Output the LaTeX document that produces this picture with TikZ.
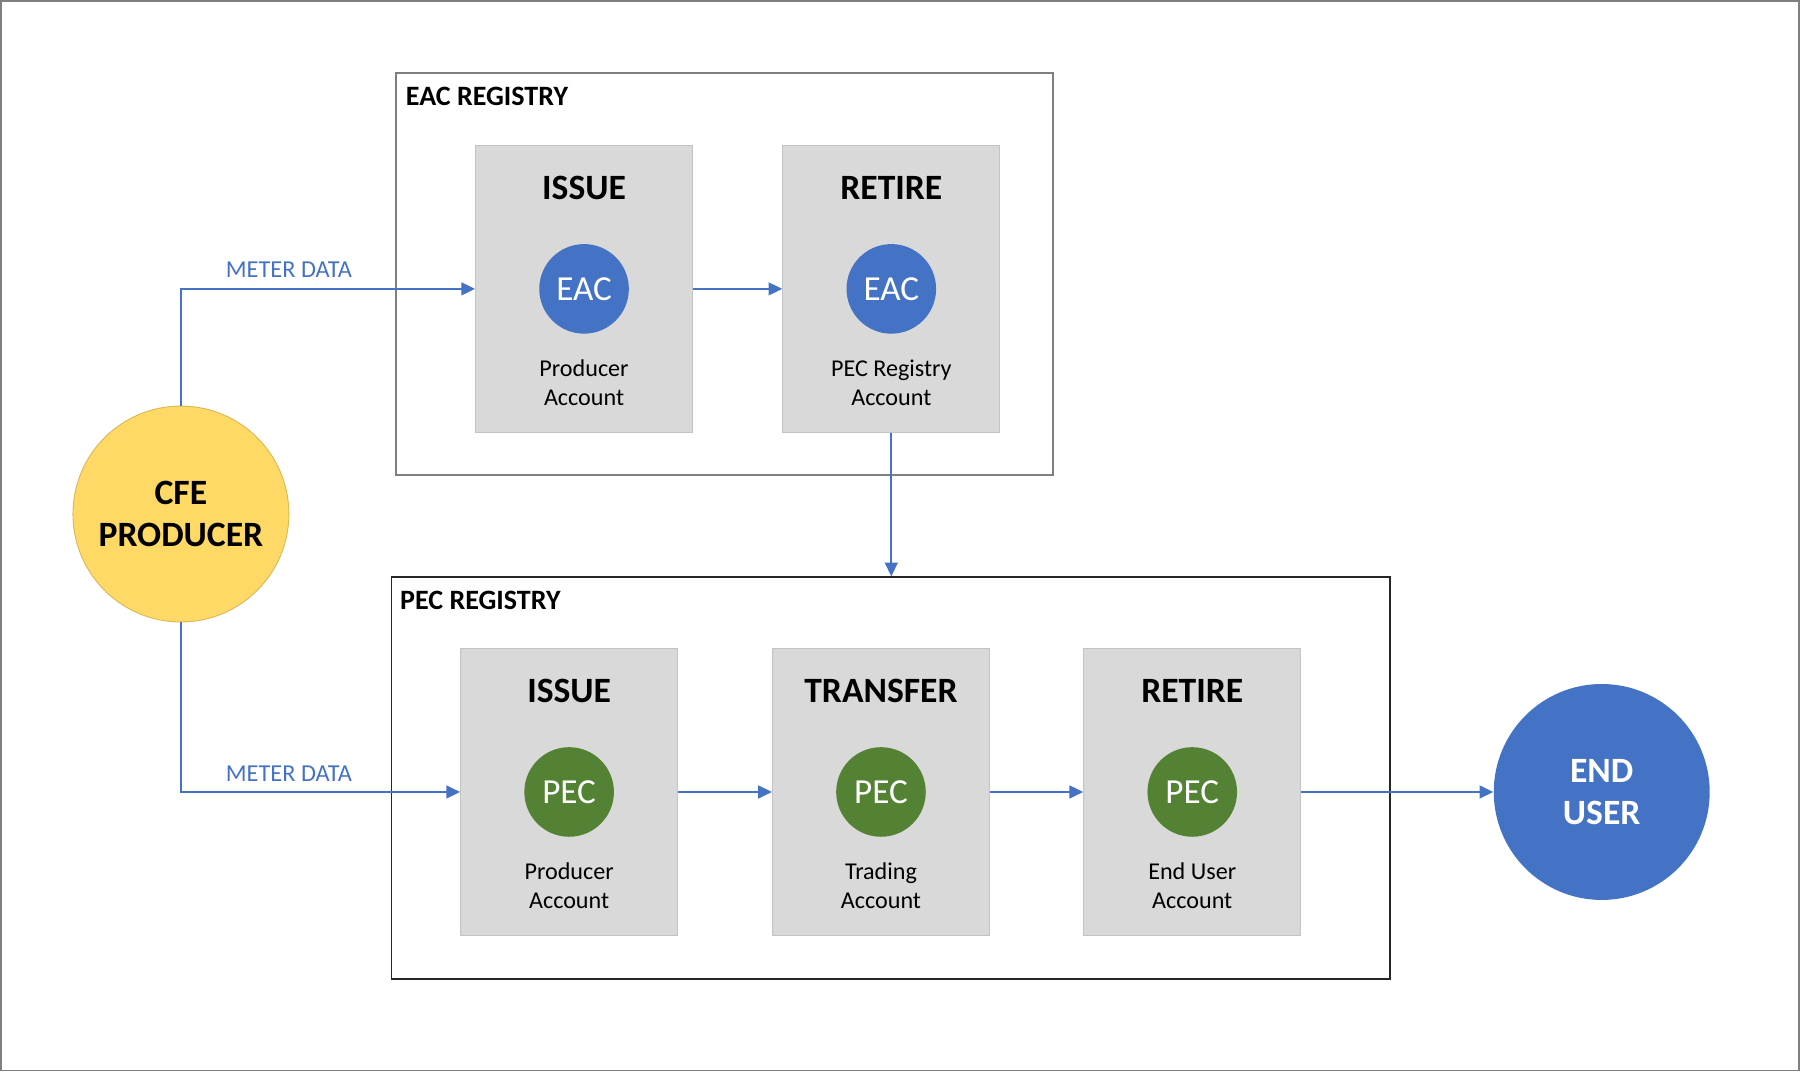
\documentclass[tikz,border=0pt]{standalone}
\usepackage{fontspec}
\setmainfont{Carlito}
\usetikzlibrary{arrows.meta,positioning}
\definecolor{cblue}{HTML}{4472C4}
\definecolor{cgreen}{HTML}{548235}
\definecolor{cyellow}{HTML}{FFD966}
\definecolor{cgray}{HTML}{D9D9D9}
\definecolor{cframe}{HTML}{7F7F7F}
\tikzset{
  stepbox/.style={rectangle, fill=cgray, draw=cgray!90!black, line width=0.4pt, minimum width=94.5pt, minimum height=125pt, inner sep=0pt},
  registry/.style={rectangle, draw=#1, line width=0.7pt, inner sep=0pt},
  regtitle/.style={anchor=base west, inner sep=0pt, font=\fontsize{12.2}{14}\selectfont\bfseries},
  steptitle/.style={anchor=base, inner sep=0pt, font=\fontsize{15.5}{18}\selectfont\bfseries},
  token/.style={circle, fill=#1, text=white, minimum size=39pt, inner sep=0pt, font=\fontsize{15.3}{18}\selectfont},
  acct/.style={align=center, inner sep=0pt, font=\fontsize{10.5}{12.5}\selectfont},
  flow/.style={draw=cblue, line width=0.8pt, -{Triangle[length=6pt,width=5.6pt]}},
  meter/.style={anchor=base, inner sep=0pt, text=cblue, font=\fontsize{10.6}{12}\selectfont},
  bigcircle/.style={circle, minimum size=94pt, inner sep=0pt, align=center, font=\fontsize{15.5}{18.5}\selectfont\bfseries}
}
\begin{document}
\begin{tikzpicture}[x=0.5pt,y=-0.5pt]
\useasboundingbox (0,0) rectangle (1568,933);
\draw[cframe, line width=0.8pt] (1,1) rectangle (1566,932);

% EAC registry
\node[registry=cframe, minimum width=286pt, minimum height=175pt] (eacreg) at (631,238.5) {};
\node[regtitle] (eactitle) at (353,92) {EAC REGISTRY};
\node[stepbox] (eacissue) at (508.5,251.5) {};
\node[stepbox] (eacretire) at (776,251.5) {};
\node[steptitle] (t1) at (508.5,174) {ISSUE};
\node[steptitle] (t2) at (776,174) {RETIRE};
\node[token=cblue] (c1) at (508.5,251.5) {EAC};
\node[token=cblue] (c2) at (776,251.5) {EAC};
\node[acct] (a1) at (508.5,333) {Producer\\Account};
\node[acct] (a2) at (776,333) {PEC Registry\\Account};

% PEC registry
\node[registry=black!85, minimum width=434.5pt, minimum height=175pt] (pecreg) at (775.5,677.5) {};
\node[regtitle] (pectitle) at (348,531) {PEC REGISTRY};
\node[stepbox] (pecissue) at (495.5,689.5) {};
\node[stepbox] (pectransfer) at (767,689.5) {};
\node[stepbox] (pecretire) at (1038,689.5) {};
\node[steptitle] (t3) at (495.5,612) {ISSUE};
\node[steptitle] (t4) at (767,612) {TRANSFER};
\node[steptitle] (t5) at (1038,612) {RETIRE};
\node[token=cgreen] (c3) at (495.5,689.5) {PEC};
\node[token=cgreen] (c4) at (767,689.5) {PEC};
\node[token=cgreen] (c5) at (1038,689.5) {PEC};
\node[acct] (a3) at (495.5,771) {Producer\\Account};
\node[acct] (a4) at (767,771) {Trading\\Account};
\node[acct] (a5) at (1038,771) {End User\\Account};

% actors
\node[bigcircle, fill=cyellow, draw=cyellow!85!black, line width=0.4pt] (cfe) at (157.5,447.5) {CFE\\PRODUCER};
\node[bigcircle, fill=cblue, text=white] (enduser) at (1394.5,689.5) {END\\USER};

% connectors
\draw[flow] (cfe.north) |- (eacissue.west);
\draw[flow] (cfe.south) |- (pecissue.west);
\node[meter] (m1) at (251.5,242) {METER DATA};
\node[meter] (m2) at (251.5,680) {METER DATA};
\draw[flow] (eacissue.east) -- (eacretire.west);
\draw[flow] (eacretire.south) -- (eacretire.south |- pecreg.north);
\draw[flow] (pecissue.east) -- (pectransfer.west);
\draw[flow] (pectransfer.east) -- (pecretire.west);
\draw[flow] (pecretire.east) -- (enduser.west);
\end{tikzpicture}
\end{document}
